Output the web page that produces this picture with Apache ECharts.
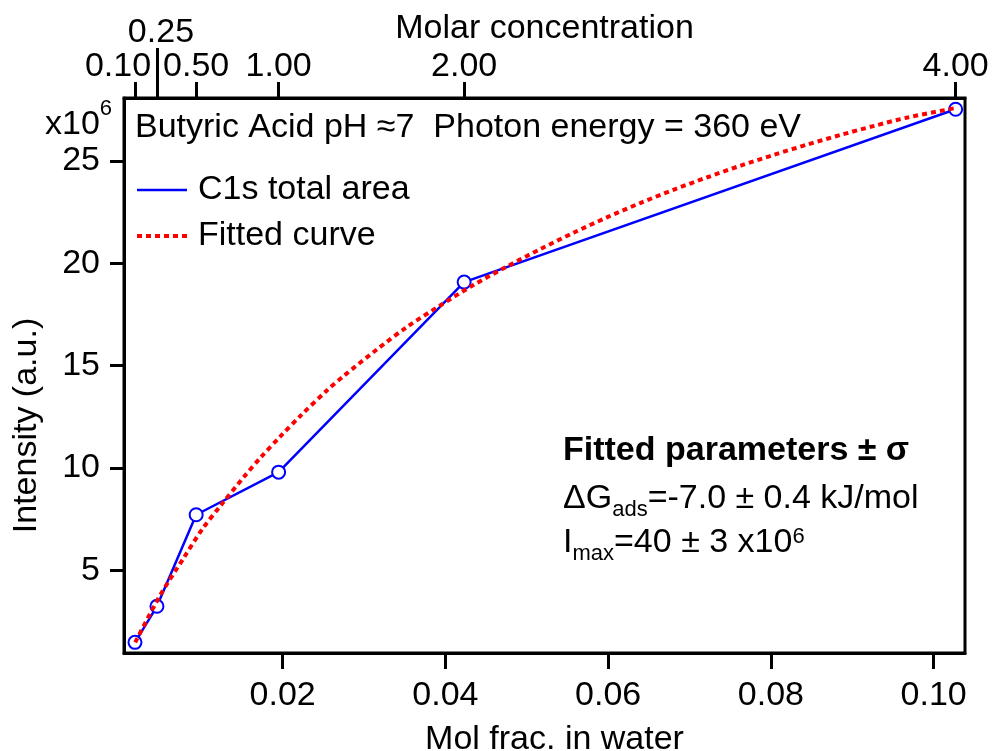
<!DOCTYPE html>
<html>
<head>
<meta charset="utf-8">
<script src="https://cdn.jsdelivr.net/npm/echarts@6/dist/echarts.min.js"></script>
<style>
  html, body { margin: 0; padding: 0; background: #fff; }
  #chart { width: 993px; height: 751px; }
</style>
</head>
<body>
<div id="chart"></div>
<script>
// measured points, mole fraction vs C1s area (x10^6)
var molFrac = [0.00185, 0.00455, 0.00937, 0.0195, 0.0423, 0.1027];
var c1sArea = [1.49, 3.25, 7.72, 9.80, 19.08, 27.52];
var molarLabels = ['0.10', '0.25', '0.50', '1.00', '2.00', '4.00'];

// fitted curve
var fitX = [0.00188, 0.00496, 0.00782, 0.01009, 0.01234, 0.0152, 0.01726, 0.01972, 0.02218,
            0.02546, 0.0275, 0.03161, 0.0353, 0.0394, 0.04349, 0.0476, 0.0517, 0.0558,
            0.0599, 0.064, 0.0681, 0.0722, 0.0763, 0.0804, 0.0845, 0.0886, 0.0927, 0.0968, 0.1027];
var fitY = [1.49, 3.80, 5.60, 7.00, 8.15, 9.55, 10.50, 11.55, 12.55,
            13.80, 14.50, 15.80, 16.90, 17.95, 18.95, 19.85, 20.70, 21.50,
            22.25, 22.95, 23.60, 24.20, 24.77, 25.30, 25.80, 26.27, 26.71, 27.12, 27.58];

var yTicks = [5, 10, 15, 20, 25];
var xTicks = [0.02, 0.04, 0.06, 0.08, 0.10];

var FONT = 'Liberation Sans, Arial, Helvetica, sans-serif';
var FS = 34;
var SUB = 22;

var chart = echarts.init(document.getElementById('chart'));

var c1sData = molFrac.map(function (x, i) { return [x, c1sArea[i]]; });
var fitData = fitX.map(function (x, i) { return [x, fitY[i]]; });

var xMin = 0.0005, xMax = 0.10385;

var option = {
    backgroundColor: '#fff',
    animation: false,
    textStyle: { fontFamily: FONT, color: '#000' },
    grid: {
        left: 124, right: 28, top: 98, bottom: 98,
        containLabel: false, outerBoundsMode: 'none',
        show: true, borderColor: '#000', borderWidth: 3
    },
    legend: {
        left: 135, top: 173, orient: 'vertical', padding: 0,
        itemWidth: 50, itemHeight: 14, itemGap: 12,
        textStyle: { fontSize: FS, fontFamily: FONT, color: '#000', padding: [0, 0, 0, 6] },
        data: [
            { name: 'C1s total area', itemStyle: { opacity: 0 },
              lineStyle: { color: '#0000ff', width: 2.5 } },
            { name: 'Fitted curve', itemStyle: { opacity: 0 },
              lineStyle: { color: '#ff0000', width: 4, type: [5, 4] } }
        ]
    },
    xAxis: [{
        type: 'value', position: 'bottom', min: xMin, max: xMax,
        name: 'Mol frac. in water', nameLocation: 'middle', nameGap: 70, nameMoveOverlap: false,
        nameTextStyle: { fontSize: FS, fontFamily: FONT, color: '#000', padding: [0, 0, 0, 20] },
        axisLine: { show: true, lineStyle: { color: '#000', width: 3 } },
        axisTick: { show: true, inside: false, length: 16, customValues: xTicks,
            lineStyle: { color: '#000', width: 3 } },
        axisLabel: { customValues: xTicks, margin: 26, fontSize: FS, fontFamily: FONT, color: '#000',
            formatter: function (v) { return v.toFixed(2); } },
        splitLine: { show: false }
    }, {
        type: 'value', position: 'top', min: xMin, max: xMax,
        name: 'Molar concentration', nameLocation: 'middle', nameGap: 52, nameMoveOverlap: false,
        nameTextStyle: { fontSize: FS, fontFamily: FONT, color: '#000' },
        axisLine: { show: true, lineStyle: { color: '#000', width: 3 } },
        axisTick: { show: true, length: 16, customValues: molFrac,
            lineStyle: { color: '#000', width: 3 } },
        axisLabel: {
            customValues: molFrac, margin: 14, fontSize: FS, fontFamily: FONT, color: '#000',
            formatter: function (v) {
                var i = molFrac.indexOf(v);
                if (i === 0) return '{left|' + molarLabels[i] + '}';
                if (i === 1) return '{hi|' + molarLabels[i] + '}';
                return molarLabels[i];
            },
            rich: {
                left: { fontSize: FS, fontFamily: FONT, padding: [0, 34, 0, 0] },
                hi: { fontSize: FS, fontFamily: FONT, padding: [0, 0, 34, 8] }
            }
        },
        splitLine: { show: false }
    }, {
        // long tick marking 0.25 M
        type: 'value', position: 'top', min: xMin, max: xMax,
        axisLine: { show: false },
        axisTick: { show: true, length: 50, customValues: [molFrac[1]],
            lineStyle: { color: '#000', width: 3 } },
        axisLabel: { show: false },
        splitLine: { show: false }
    }],
    yAxis: [{
        type: 'value', min: 0.97, max: 28.07,
        name: 'Intensity (a.u.)', nameLocation: 'middle', nameGap: 80, nameMoveOverlap: false,
        nameTextStyle: { fontSize: FS, fontFamily: FONT, color: '#000', padding: [0, 100, 0, 0] },
        axisLine: { show: true, lineStyle: { color: '#000', width: 3 } },
        axisTick: { show: true, length: 14, customValues: yTicks,
            lineStyle: { color: '#000', width: 3 } },
        axisLabel: { customValues: yTicks, margin: 24, fontSize: FS, fontFamily: FONT, color: '#000' },
        splitLine: { show: false }
    }],
    graphic: [{
        type: 'text', left: 135, top: 111,
        style: { text: 'Butyric Acid pH \u22487  Photon energy = 360 eV', font: FS + 'px ' + FONT, fill: '#000' }
    }, {
        type: 'text', left: 45, top: 98,
        style: {
            text: '{a|x10}{s|6}',
            rich: {
                a: { fontSize: FS, fontFamily: FONT, lineHeight: 34, verticalAlign: 'top', padding: [10, 0, 0, 0] },
                s: { fontSize: SUB, fontFamily: FONT, lineHeight: 22, verticalAlign: 'top' }
            }
        }
    }, {
        type: 'text', left: 563, top: 434,
        style: { text: 'Fitted parameters \u00b1 \u03c3', font: 'bold ' + FS + 'px ' + FONT, fill: '#000' }
    }, {
        type: 'text', left: 563, top: 482,
        style: {
            text: '{a|\u0394G}{b|ads}{a|=-7.0 \u00b1 0.4 kJ/mol}',
            rich: {
                a: { fontSize: FS, fontFamily: FONT, lineHeight: 34, verticalAlign: 'top' },
                b: { fontSize: SUB, fontFamily: FONT, lineHeight: 22, verticalAlign: 'top', padding: [17, 0, 0, 0] }
            }
        }
    }, {
        type: 'text', left: 563, top: 526,
        style: {
            text: '{a|I}{b|max}{a|=40 \u00b1 3 x10}{c|6}',
            rich: {
                a: { fontSize: FS, fontFamily: FONT, lineHeight: 34, verticalAlign: 'top' },
                b: { fontSize: SUB, fontFamily: FONT, lineHeight: 22, verticalAlign: 'top', padding: [17, 0, 0, 0] },
                c: { fontSize: SUB, fontFamily: FONT, lineHeight: 22, verticalAlign: 'top' }
            }
        }
    }],
    series: [{
        name: 'C1s total area',
        type: 'line',
        data: c1sData,
        symbol: 'emptyCircle',
        symbolSize: 13,
        lineStyle: { color: '#0000ff', width: 2.5 },
        itemStyle: { color: '#0000ff', borderWidth: 2.5 },
        z: 3
    }, {
        name: 'Fitted curve',
        type: 'line',
        data: fitData,
        symbol: 'none',
        smooth: 0.3,
        lineStyle: { color: '#ff0000', width: 4, type: [5, 4] },
        itemStyle: { color: '#ff0000' },
        z: 4
    }]
};

chart.setOption(option);
</script>
</body>
</html>
